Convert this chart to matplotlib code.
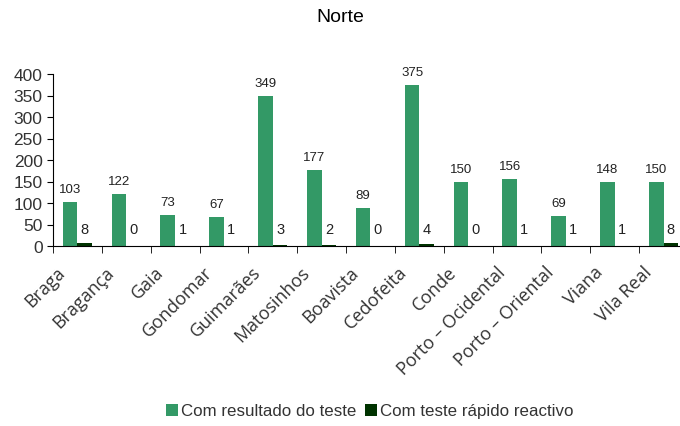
import numpy as np
import matplotlib.pyplot as plt
import matplotlib.transforms as mtransforms

plt.rcParams['font.family'] = ['Liberation Sans', 'DejaVu Sans']

# data
locais = ['Braga', 'Bragança', 'Gaia', 'Gondomar', 'Guimarães', 'Matosinhos',
          'Boavista', 'Cedofeita', 'Conde', 'Porto – Ocidental',
          'Porto – Oriental', 'Viana', 'Vila Real']
com_resultado = [103, 122, 73, 67, 349, 177, 89, 375, 150, 156, 69, 148, 150]
teste_rapido = [8, 0, 1, 1, 3, 2, 0, 4, 0, 1, 1, 1, 8]

fig = plt.figure(figsize=(6.8, 4.27), dpi=100)
# axes runs a little past the right edge, as in the original
ax = fig.add_axes([53/680, 1 - 247/427, 635/680, 172/427])

x = np.arange(len(locais))
w = 0.3
b1 = ax.bar(x - w/2, com_resultado, w, color='#339966', label='Com resultado do teste')
b2 = ax.bar(x + w/2, teste_rapido, w, color='#003300', label='Com teste rápido reactivo')

for rect, v in zip(b1, com_resultado):
    ax.annotate(str(v), (rect.get_x() + rect.get_width()/2, v), xytext=(0, 5),
                textcoords='offset points', ha='center', va='bottom', fontsize=9.5, color='#222222')
for rect, v in zip(b2, teste_rapido):
    ax.annotate(str(v), (rect.get_x() + rect.get_width()/2, 0), xytext=(0, 7),
                textcoords='offset points', ha='center', va='bottom', fontsize=10.5, color='#222222')

ax.set_xlim(-0.5, len(locais) - 0.5)
ax.set_ylim(0, 400)
ax.set_yticks(range(0, 401, 50))
ax.tick_params(axis='y', labelsize=12.5, labelcolor='#333333', length=4)

ax.set_xticks(x)
ax.set_xticklabels(locais, rotation=45, ha='right', rotation_mode='anchor',
                   fontsize=13, color='#333333', family=['Open Sans', 'DejaVu Sans'])
ax.tick_params(axis='x', which='major', length=0, pad=12)
ax.set_xticks(np.arange(-0.5, len(locais), 1), minor=True)
ax.tick_params(axis='x', which='minor', length=5)
shift = mtransforms.ScaledTranslation(-21/100, 0, fig.dpi_scale_trans)
for lbl in ax.get_xticklabels():
    lbl.set_transform(lbl.get_transform() + shift)

for s in ['top', 'right']:
    ax.spines[s].set_visible(False)

fig.text(0.5, 1 - 18/427, 'Norte', ha='center', va='center', fontsize=14)
fig.legend(loc='center', bbox_to_anchor=(370/680, 1 - 412/427), ncol=2, frameon=False,
           fontsize=12.2, handlelength=0.7, handleheight=0.7, handletextpad=0.2,
           columnspacing=0.5, labelcolor='#333333')

fig.savefig('out.png', dpi=100)
